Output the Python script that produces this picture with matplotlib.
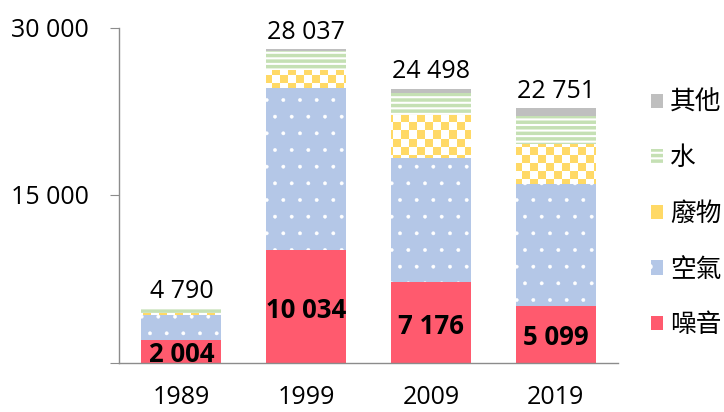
import numpy as np
import matplotlib
matplotlib.use('Agg')
import matplotlib.pyplot as plt

# data
years = ['1989', '1999', '2009', '2019']
noise = [2004, 10034, 7176, 5099]
air = [2250, 14520, 11110, 10859]
waste = [160, 1640, 3877, 3582]
water = [340, 1730, 1944, 2534]
other = [36, 113, 391, 677]
totals = [4790, 28037, 24498, 22751]
names = ['噪音', '空氣', '廢物', '水', '其他']


def fmt(v):
    return f'{v:,}'.replace(',', ' ')


plt.rcParams['font.family'] = ['Open Sans', 'Noto Sans CJK TC', 'DejaVu Sans']

fig = plt.figure(figsize=(7.24, 4.12), dpi=100)
ax = fig.add_axes([119 / 724, 1 - 362.5 / 412, 499 / 724, 335 / 412])

x = np.arange(len(years))
w = 0.64
bottom = np.zeros(len(years))

b_noise = ax.bar(x, noise, w, color='#FF5A6E', linewidth=0, label=names[0])
bottom += noise
plt.rcParams['hatch.linewidth'] = 0.3
b_air = ax.bar(x, air, w, bottom=bottom, color='#B4C7E7', edgecolor='white',
               linewidth=0, hatch='.', label=names[1])
bottom += air
b_waste = ax.bar(x, waste, w, bottom=bottom, color='#FFD966', linewidth=0, label=names[2])
bottom += waste
plt.rcParams['hatch.linewidth'] = 1.5
b_water = ax.bar(x, water, w, bottom=bottom, color='#C5E0B4', edgecolor='white',
                 linewidth=0, hatch='---', label=names[3])
bottom += water
b_other = ax.bar(x, other, w, bottom=bottom, color='#BFBFBF', linewidth=0, label=names[4])

# per-patch hatch widths where supported
for p in b_air.patches:
    if hasattr(p, 'set_hatch_linewidth'):
        p.set_hatch_linewidth(0.3)
for p in b_water.patches:
    if hasattr(p, 'set_hatch_linewidth'):
        p.set_hatch_linewidth(1.5)

# white checker texture on the waste segments
ny, nx = 42, 62
check = (np.indices((ny, nx)).sum(axis=0) % 2).astype(float)
img = np.zeros((ny, nx, 4))
img[..., :3] = 1.0
img[..., 3] = check
for p in b_waste.patches:
    im = ax.imshow(img, extent=(-0.5, 3.5, 0, 30000), aspect='auto',
                   interpolation='nearest', zorder=p.get_zorder() + 0.1)
    im.set_clip_path(p)
ax.set_xlim(-0.5, 3.5)
ax.set_ylim(0, 30000)

# labels
for i in range(len(years)):
    ax.annotate(fmt(totals[i]), (x[i], totals[i]), xytext=(0, 3.5),
                textcoords='offset points', ha='center', va='bottom', fontsize=18)
    ax.annotate(fmt(noise[i]), (x[i], noise[i] / 2), xytext=(0, -8),
                textcoords='offset points', ha='center', va='baseline',
                fontsize=18.5, fontweight='bold')

ax.set_yticks([0, 15000, 30000])
ax.set_yticklabels(['', '15 000', '30 000'])
ax.set_xticks(x)
ax.set_xticklabels(years)
ax.tick_params(axis='y', length=6.5, color='#8C8C8C', pad=15.5, labelsize=18)
ax.tick_params(axis='x', length=0, pad=16, labelsize=18)
for s in ['top', 'right']:
    ax.spines[s].set_visible(False)
for s in ['left', 'bottom']:
    ax.spines[s].set_color('#8C8C8C')
    ax.spines[s].set_linewidth(1)

fig.legend([b_other, b_water, b_waste, b_air, b_noise], names[::-1],
           loc='center left', bbox_to_anchor=(651 / 724, 1 - 214 / 412),
           frameon=False, handlelength=0.48, handleheight=0.48,
           handletextpad=0.25, labelspacing=1.15, borderpad=0, borderaxespad=0,
           prop={'family': ['Noto Sans CJK TC'], 'size': 18.5})

fig.savefig('out.png', dpi=100)
